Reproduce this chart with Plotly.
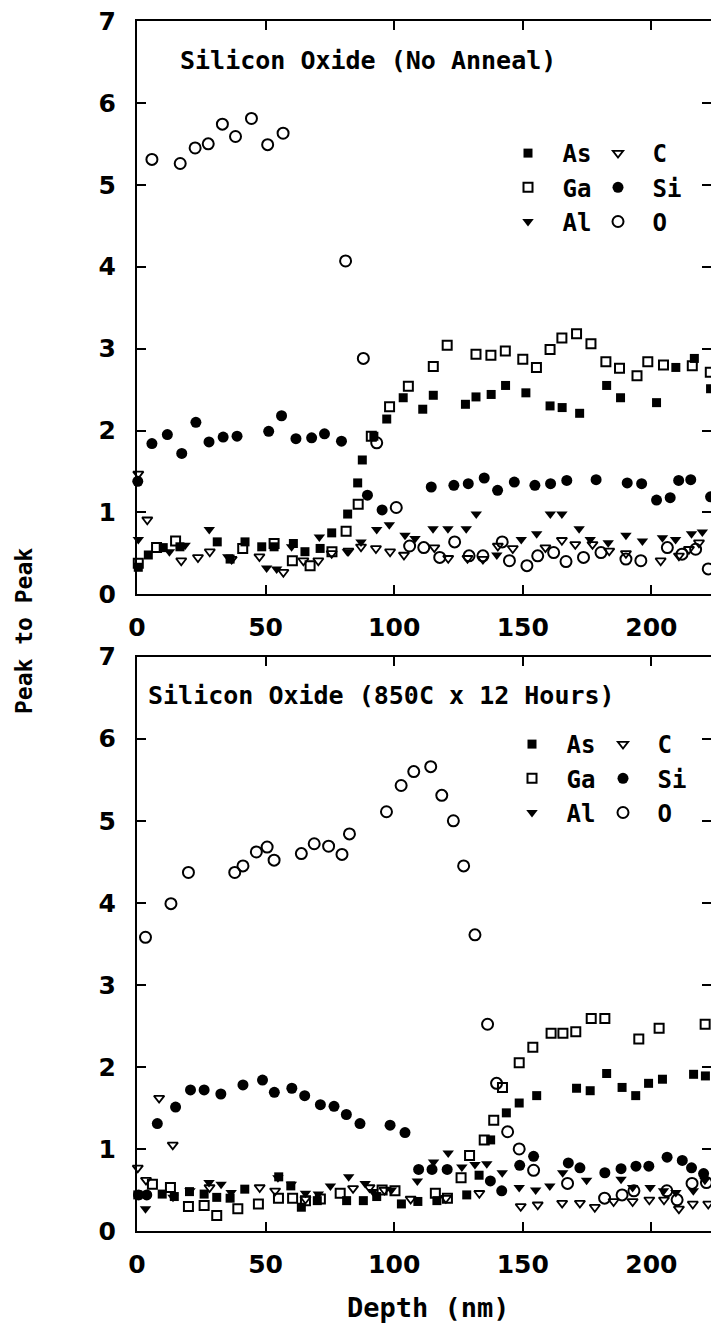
import plotly.graph_objects as go

# ---------------- data: top panel (No Anneal) ----------------
top_as_x = [0.5, 4.4, 10.2, 16.7, 31.2, 36.2, 42.0, 48.5, 53.3, 60.8, 65.3, 71.2, 75.7, 81.9, 85.8, 87.6, 92.1, 97.1,
            103.5, 111.1, 115.2, 127.7, 131.8, 137.7, 143.3, 151.2, 160.6, 165.3, 172.1, 182.6, 188.0, 202.0, 209.5,
            216.7, 223.0]
top_as_y = [0.33, 0.48, 0.57, 0.58, 0.64, 0.43, 0.64, 0.58, 0.58, 0.62, 0.52, 0.56, 0.75, 0.98, 1.36, 1.64, 1.93, 2.14,
            2.40, 2.26, 2.43, 2.32, 2.41, 2.44, 2.55, 2.46, 2.30, 2.28, 2.21, 2.55, 2.40, 2.34, 2.77,
            2.88, 2.51]

top_ga_x = [0.5, 7.6, 15.0, 41.1, 53.3, 60.4, 67.3, 75.8, 81.3, 86.0, 91.1, 98.2, 105.5, 115.2, 120.6, 131.8, 137.6,
            143.2, 150.0, 155.3, 160.6, 165.2, 170.9, 176.5, 182.3, 187.6, 194.4, 198.6, 204.7, 215.9, 222.9]
top_ga_y = [0.38, 0.57, 0.65, 0.56, 0.62, 0.41, 0.35, 0.52, 0.77, 1.10, 1.93, 2.29, 2.54, 2.78, 3.04, 2.93, 2.92,
            2.97, 2.87, 2.77, 2.99, 3.13, 3.18, 3.06, 2.84, 2.76, 2.67, 2.84, 2.80, 2.79, 2.71]

top_al_x = [0.5, 12.6, 18.7, 28.1, 35.3, 50.4, 54.3, 60.1, 70.9, 81.8, 87.1, 93.2, 98.1, 104.2, 108.1, 115.1, 120.9,
            128.0, 131.9, 139.9, 149.4, 155.4, 160.7, 165.2, 171.9, 176.2, 183.2, 190.1, 196.5, 204.3, 209.4, 215.6,
            219.8]
top_al_y = [0.67, 0.52, 0.60, 0.79, 0.46, 0.32, 0.31, 0.58, 0.70, 0.52, 0.64, 0.79, 0.85, 0.72, 0.68, 0.80, 0.80,
            0.80, 0.98, 0.48, 0.67, 0.74, 0.98, 0.98, 0.80, 0.67, 0.63, 0.72, 0.65, 0.69, 0.67, 0.74,
            0.76]

top_c_x = [0.5, 4.0, 17.2, 23.7, 28.3, 36.8, 47.6, 56.9, 64.7, 70.5, 75.7, 82.2, 87.1, 92.9, 98.4, 103.8, 115.6, 121.0,
           128.5, 134.5, 140.3, 146.1, 158.8, 165.2, 170.4, 177.1, 183.6, 190.1, 203.6, 210.7, 214.6, 218.5]
top_c_y = [1.47, 0.91, 0.41, 0.45, 0.52, 0.43, 0.46, 0.27, 0.41, 0.41, 0.50, 0.53, 0.58, 0.56, 0.52, 0.48, 0.57, 0.44,
           0.44, 0.43, 0.59, 0.56, 0.57, 0.66, 0.61, 0.61, 0.53, 0.50, 0.41, 0.47, 0.55, 0.63]

top_si_x = [0.3, 5.8, 11.8, 17.4, 22.9, 28.0, 33.5, 38.9, 51.2, 56.2, 61.8, 67.9, 72.9, 79.5, 89.6, 95.3, 114.4, 123.2,
            128.8, 135.0, 140.2, 146.7, 154.7, 160.8, 167.1, 178.5, 190.6, 196.2, 202.0, 207.3, 210.6, 215.3, 223.0]
top_si_y = [1.38, 1.84, 1.95, 1.72, 2.10, 1.86, 1.92, 1.93, 1.99, 2.18, 1.90, 1.91, 1.96, 1.87, 1.21, 1.03, 1.31, 1.33,
            1.35, 1.42, 1.27, 1.37, 1.33, 1.35, 1.39, 1.40, 1.36, 1.35, 1.15, 1.18, 1.39, 1.40, 1.19]

top_o_x = [5.8, 16.8, 22.6, 27.7, 33.2, 38.3, 44.5, 50.8, 56.8, 81.1, 88.0, 93.2, 100.8, 106.0, 111.5, 117.7, 123.5,
           129.1, 134.5, 142.0, 144.8, 151.6, 155.8, 162.0, 166.8, 173.6, 180.4, 190.1, 195.9, 206.2, 211.9, 217.2,
           222.1]
top_o_y = [5.31, 5.26, 5.45, 5.50, 5.74, 5.59, 5.81, 5.49, 5.63, 4.07, 2.88, 1.85, 1.06, 0.59, 0.57, 0.45, 0.64,
           0.47, 0.47, 0.64, 0.41, 0.35, 0.47, 0.51, 0.40, 0.45, 0.51, 0.43, 0.41, 0.57, 0.49, 0.55,
           0.31]

# ---------------- data: bottom panel (850C x 12 Hours) ----------------
bot_as_x = [0.3, 9.8, 14.5, 20.4, 26.1, 31.0, 36.2, 41.9, 55.1, 59.8, 63.9, 70.1, 81.5, 88.0, 93.2, 102.8, 109.2,
            116.6, 128.2, 133.0, 137.5, 143.6, 148.6, 155.4, 170.9, 176.2, 182.6, 188.6, 193.9, 198.9, 204.3, 216.4,
            221.0, 223.6]
bot_as_y = [0.44, 0.45, 0.42, 0.48, 0.45, 0.41, 0.40, 0.51, 0.66, 0.55, 0.29, 0.37, 0.37, 0.37, 0.42, 0.33, 0.36,
            0.37, 0.44, 0.68, 1.11, 1.44, 1.56, 1.65, 1.74, 1.71, 1.92, 1.75, 1.65, 1.80, 1.85, 1.91,
            1.89, 1.79]

bot_ga_x = [6.0, 13.0, 20.0, 26.1, 31.0, 39.2, 47.2, 55.0, 60.5, 65.5, 71.3, 79.0, 95.3, 100.3, 116.0, 120.7, 126.0,
            129.3, 135.0, 138.7, 142.1, 148.6, 153.9, 161.0, 165.6, 170.6, 176.6, 181.9, 195.1, 203.0, 220.9]
bot_ga_y = [0.57, 0.53, 0.30, 0.31, 0.19, 0.27, 0.33, 0.40, 0.40, 0.37, 0.39, 0.46, 0.50, 0.49, 0.46, 0.40, 0.65,
            0.92, 1.11, 1.35, 1.75, 2.05, 2.24, 2.41, 2.41, 2.43, 2.59, 2.59, 2.34, 2.47, 2.52]

bot_al_x = [3.3, 14.0, 20.6, 28.0, 32.7, 36.6, 54.8, 60.0, 65.5, 70.5, 75.2, 82.3, 88.7, 91.7, 98.9, 109.0, 115.3,
            121.0, 126.3, 131.4, 136.0, 142.0, 148.6, 155.0, 160.5, 165.5, 174.8, 188.2, 192.7, 199.5, 204.7, 209.5,
            216.3, 220.8]
bot_al_y = [0.27, 0.41, 0.49, 0.59, 0.57, 0.47, 0.65, 0.57, 0.46, 0.45, 0.55, 0.66, 0.58, 0.48, 0.50, 0.61, 0.84,
            0.95, 0.78, 0.81, 0.82, 0.71, 0.53, 0.50, 0.55, 0.71, 0.62, 0.63, 0.53, 0.53, 0.49, 0.47,
            0.49, 0.62]

bot_c_x = [0.3, 3.5, 8.6, 13.9, 28.2, 47.7, 53.7, 65.5, 84.0, 90.4, 96.2, 106.4, 120.1, 133.1, 149.2, 155.8, 165.3,
           172.2, 178.0, 185.3, 192.7, 199.2, 204.9, 210.7, 216.1, 222.1]
bot_c_y = [0.77, 0.62, 1.62, 1.05, 0.53, 0.53, 0.49, 0.39, 0.52, 0.53, 0.50, 0.39, 0.40, 0.46, 0.30, 0.32, 0.34,
           0.34, 0.29, 0.36, 0.36, 0.38, 0.38, 0.27, 0.33, 0.33]

bot_si_x = [0.6, 3.8, 7.9, 15.0, 20.8, 26.1, 32.6, 41.2, 48.8, 53.4, 60.2, 65.2, 71.3, 76.6, 81.4, 86.7, 98.4, 104.2,
            109.5, 114.7, 120.6, 137.4, 141.8, 148.8, 154.2, 167.7, 172.2, 181.9, 188.2, 194.0, 199.0, 206.1, 212.0,
            215.6, 220.3]
bot_si_y = [0.44, 0.44, 1.31, 1.51, 1.72, 1.72, 1.67, 1.78, 1.84, 1.69, 1.74, 1.65, 1.54, 1.52, 1.42, 1.31, 1.29, 1.20,
            0.75, 0.75, 0.75, 0.61, 0.49, 0.80, 0.91, 0.83, 0.77, 0.71, 0.76, 0.79, 0.79, 0.90, 0.86,
            0.77, 0.70]

bot_o_x = [3.3, 13.2, 20.0, 38.0, 41.2, 46.4, 50.6, 53.3, 63.9, 68.9, 74.5, 79.7, 82.6, 97.0, 102.7, 107.6, 114.2,
           118.5, 123.0, 127.0, 131.4, 136.3, 139.8, 144.1, 148.6, 154.2, 167.4, 181.8, 188.6, 193.2, 206.0, 210.0,
           215.8, 221.4, 223.2]
bot_o_y = [3.58, 3.99, 4.37, 4.37, 4.45, 4.62, 4.68, 4.52, 4.60, 4.72, 4.69, 4.59, 4.84, 5.11, 5.43, 5.60, 5.66,
           5.31, 5.00, 4.45, 3.61, 2.52, 1.80, 1.21, 1.00, 0.74, 0.58, 0.40, 0.44, 0.49, 0.49, 0.38,
           0.58, 0.59, 0.34]

panel_titles = ["Silicon Oxide (No Anneal)", "Silicon Oxide (850C x 12 Hours)"]
x_ticks = [0, 50, 100, 150, 200]
y_ticks = [0, 1, 2, 3, 4, 5, 6, 7]

# ---------------- figure ----------------
W, H = 711, 1326
ML, MR, MT, MB = 137, 0, 21, 95
PW, PH = W - ML - MR, H - MT - MB
X_MAX = PW / 2.572

TXT = "DejaVu Sans Mono"
NUM = "DejaVu Sans"
WT = "bold"


def px(x):
    return (x - ML) / PW


def py(y):
    return (H - MB - y) / PH


specs = [
    ("As", "square", 9, None),
    ("Ga", "square-open", 9, 2),
    ("Al", "triangle-down", 10, None),
    ("C", "triangle-down-open", 9, 1.8),
    ("Si", "circle", 11, None),
    ("O", "circle-open", 11, 2),
]

top_data = {"As": (top_as_x, top_as_y), "Ga": (top_ga_x, top_ga_y), "Al": (top_al_x, top_al_y),
            "C": (top_c_x, top_c_y), "Si": (top_si_x, top_si_y), "O": (top_o_x, top_o_y)}
bot_data = {"As": (bot_as_x, bot_as_y), "Ga": (bot_ga_x, bot_ga_y), "Al": (bot_al_x, bot_al_y),
            "C": (bot_c_x, bot_c_y), "Si": (bot_si_x, bot_si_y), "O": (bot_o_x, bot_o_y)}

fig = go.Figure()

for panel, data, xa, ya, leg_a, leg_b in [
    ("top", top_data, "x", "y", "legend", "legend2"),
    ("bot", bot_data, "x2", "y2", "legend3", "legend4"),
]:
    for i, (name, sym, size, lw) in enumerate(specs):
        xs, ys = data[name]
        marker = dict(symbol=sym, size=size, color="black")
        if lw:
            marker["line"] = dict(width=lw, color="black")
        fig.add_trace(go.Scatter(
            x=xs, y=ys, mode="markers", name=" " + name, marker=marker,
            xaxis=xa, yaxis=ya, cliponaxis=False,
            legend=leg_a if name in ("As", "Ga", "Al") else leg_b,
        ))

axis_common = dict(
    showline=True, linecolor="black", linewidth=2, ticks="inside", ticklen=9, tickwidth=2,
    tickcolor="black", showgrid=False, zeroline=False,
)
tickfont = dict(family=NUM, size=25, color="black", weight=WT)

fig.update_layout(
    width=W, height=H,
    margin=dict(l=ML, r=MR, t=MT, b=MB, pad=0),
    paper_bgcolor="white", plot_bgcolor="white",
    font=dict(family=TXT, color="black"),
    xaxis=dict(**axis_common, domain=[0, 1], anchor="y", range=[0, X_MAX], mirror="ticks",
               tickvals=x_ticks, ticklabelstandoff=10, tickfont=tickfont),
    yaxis=dict(**axis_common, domain=[py(594.3), 1], anchor="x", range=[0, 7], tickvals=y_ticks,
               ticklabelstandoff=14, tickfont=tickfont),
    xaxis2=dict(**axis_common, domain=[0, 1], anchor="y2", range=[0, X_MAX], mirror="ticks",
                tickvals=x_ticks, ticklabelstandoff=10, tickfont=tickfont),
    yaxis2=dict(**axis_common, domain=[0, py(656.7)], anchor="x2", range=[0, 7], tickvals=y_ticks,
                ticklabelstandoff=14, tickfont=tickfont),
    yaxis3=dict(overlaying="y", side="right", anchor="x", range=[0, 7], tickvals=y_ticks, ticks="inside",
                ticklen=9, tickwidth=2, tickcolor="black", showline=False, showgrid=False, zeroline=False,
                showticklabels=False),
    yaxis4=dict(overlaying="y2", side="right", anchor="x2", range=[0, 7], tickvals=y_ticks, ticks="inside",
                ticklen=9, tickwidth=2, tickcolor="black", showline=False, showgrid=False, zeroline=False,
                showticklabels=False),
    showlegend=True,
)

leg_common = dict(orientation="v", xanchor="left", yanchor="top", bgcolor="rgba(0,0,0,0)", borderwidth=0,
                  font=dict(family=TXT, size=24, color="black", weight=WT), itemsizing="trace",
                  tracegroupgap=0)
fig.update_layout(
    legend=dict(**leg_common, x=px(508), y=py(131)),
    legend2=dict(**leg_common, x=px(598), y=py(131)),
    legend3=dict(**leg_common, x=px(512), y=py(722)),
    legend4=dict(**leg_common, x=px(603), y=py(722)),
)

# invisible helper traces so the right-hand tick axes are drawn
fig.add_trace(go.Scatter(x=[None], y=[None], xaxis="x", yaxis="y3", showlegend=False, hoverinfo="skip"))
fig.add_trace(go.Scatter(x=[None], y=[None], xaxis="x2", yaxis="y4", showlegend=False, hoverinfo="skip"))

annotations = [
    dict(text=panel_titles[0], x=px(178), y=py(60), xref="paper", yref="paper", xanchor="left",
         yanchor="middle", showarrow=False, font=dict(family=TXT, size=25, color="black", weight=WT)),
    dict(text=panel_titles[1], x=px(146), y=py(695), xref="paper", yref="paper", xanchor="left",
         yanchor="middle", showarrow=False, font=dict(family=TXT, size=25, color="black", weight=WT)),
    dict(text="Peak to Peak", x=px(24), y=py(631), xref="paper", yref="paper", xanchor="center",
         yanchor="middle", textangle=-90, showarrow=False,
         font=dict(family=TXT, size=23, color="black", weight=WT)),
    dict(text="Depth (nm)", x=px(428), y=py(1307), xref="paper", yref="paper", xanchor="center",
         yanchor="middle", showarrow=False, font=dict(family=TXT, size=27, color="black", weight=WT)),
]
fig.update_layout(annotations=annotations)

fig.write_html("out.html")
